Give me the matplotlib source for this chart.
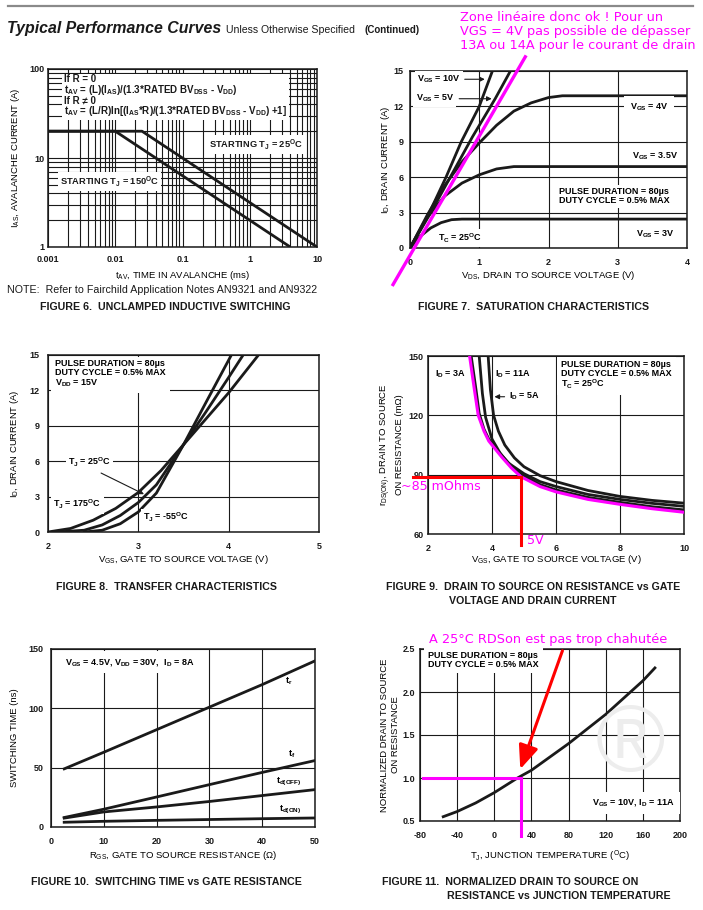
import matplotlib
matplotlib.use("Agg")
import matplotlib.pyplot as plt
from matplotlib.patches import FancyArrowPatch
from matplotlib.ticker import FixedLocator, NullFormatter

W, H = 703, 910
BLACK = "#1a1a1a"
MAGENTA = "#ff00ff"
RED = "#ff0000"

# ---- figure 6 : unclamped inductive switching (log/log)
tav_25 = [0.001, 0.025, 10]
ias_25 = [20, 20, 1]
tav_150 = [0.001, 0.01, 4]
ias_150 = [20, 20, 1]

# ---- figure 7 : saturation characteristics
vds_10v = [0, 0.28, 0.52, 0.74, 1.0, 1.19]
id_10v = [0, 3.0, 6.0, 9.0, 12.0, 15.0]
vds_5v = [0, 0.3, 0.6, 0.9, 1.23, 1.45]
id_5v = [0, 3.0, 6.2, 9.4, 12.65, 15.0]
vds_4v = [0, 0.25, 0.5, 0.75, 1.0, 1.25, 1.5, 1.75, 2.0, 2.2, 4.0]
id_4v = [0, 2.8, 5.3, 7.3, 8.9, 10.4, 11.6, 12.3, 12.75, 12.9, 12.9]
vds_35v = [0, 0.25, 0.5, 0.75, 1.0, 1.25, 1.5, 4.0]
id_35v = [0, 2.6, 4.4, 5.5, 6.2, 6.7, 6.9, 6.9]
vds_3v = [0, 0.15, 0.3, 0.45, 0.6, 0.75, 4.0]
id_3v = [0, 1.0, 1.7, 2.15, 2.4, 2.45, 2.45]
linear_x = [-0.245, 1.665]   # hand drawn magenta line
linear_y = [-3.1, 16.2]

# ---- figure 8 : transfer characteristics
vgs_175 = [2.0, 2.25, 2.5, 2.75, 3.0, 3.25, 3.5, 3.75, 4.0, 4.33]
id_175 = [0, 0.3, 1.0, 2.0, 3.35, 5.2, 7.4, 9.6, 11.8, 15.0]
vgs_25 = [2.1, 2.4, 2.6, 2.8, 3.0, 3.2, 3.5, 3.75, 4.0, 4.16]
id_25 = [0, 0.15, 0.6, 1.4, 2.5, 4.0, 7.4, 10.2, 13.1, 15.0]
vgs_m55 = [2.4, 2.6, 2.8, 3.0, 3.2, 3.5, 3.75, 4.03]
id_m55 = [0, 0.15, 0.7, 1.7, 3.3, 7.4, 11.0, 15.0]

# ---- figure 9 : rDS(on) vs VGS
vgs_3a = [3.35, 3.5, 3.6, 3.75, 3.9, 4.05, 4.3, 4.6, 5.0, 5.5, 6.0, 7.0, 8.0, 9.0, 10.0]
rds_3a = [150, 133, 121, 113, 108, 104.8, 99.8, 94.5, 89.5, 85, 82.3, 78.5, 76, 73.8, 72.2]
vgs_5a = [3.6, 3.7, 3.8, 4.0, 4.25, 4.5, 5.0, 5.5, 6.0, 7.0, 8.0, 9.0, 10.0]
rds_5a = [150, 131, 119, 108, 101, 96, 90.5, 86.5, 84, 80, 77.5, 75.5, 74]
vgs_11a = [3.88, 3.95, 4.05, 4.2, 4.4, 4.7, 5.0, 5.5, 6.0, 7.0, 8.0, 9.0, 10.0]
rds_11a = [150, 133, 120, 112, 105, 98.5, 94, 89.5, 86.5, 82, 79, 77, 75.6]
trace_vgs = [3.3, 3.45, 3.57, 3.75, 3.9, 4.05, 4.3, 4.6, 4.9, 5.5, 6.0, 7.0, 8.0, 9.0, 10.0]
trace_rds = [150, 133, 120, 112, 107, 104, 99, 93.5, 89, 84, 81.3, 77.5, 75, 72.8, 71]
mark_vgs = 4.91
mark_rds = 89

# ---- figure 10 : switching time vs gate resistance
rgs = [2.5, 10, 20, 30, 40, 50]
t_r = [49, 63, 82, 101, 120, 140]
t_f = [8, 15, 25.3, 35.7, 46, 56]
t_doff = [7.5, 12.7, 16.9, 21.5, 26.5, 31.5]
t_don = [4, 4.8, 5.6, 6.3, 7.0, 7.6]

# ---- figure 11 : normalized rDS(on) vs TJ
tj = [-55, -40, -20, 0, 25, 40, 80, 120, 160, 173]
rds_norm = [0.55, 0.61, 0.71, 0.83, 1.0, 1.09, 1.40, 1.74, 2.13, 2.28]
mark_tj = 28.4
tj_ticks = [-80, -40, 0, 40, 80, 120, 160, 200]

plt.rcParams["font.family"] = ["Liberation Sans", "DejaVu Sans"]
plt.rcParams["font.weight"] = "bold"
plt.rcParams["mathtext.default"] = "regular"

fig = plt.figure(figsize=(W / 100, H / 100), dpi=100)
box = dict(facecolor="white", edgecolor="none", pad=1.5)


def px_axes(left, top, right, bottom):
    return fig.add_axes([left / W, 1 - bottom / H, (right - left) / W, (bottom - top) / H])


def style(ax, xpad, ypad):
    ax.set_facecolor("none")
    for s in ax.spines.values():
        s.set_linewidth(1.1)
        s.set_color(BLACK)
    ax.tick_params(which="both", length=0, labelsize=6.5, colors=BLACK)
    ax.tick_params(axis="x", which="both", pad=xpad)
    ax.tick_params(axis="y", which="both", pad=ypad)
    ax.grid(True, which="both", color=BLACK, lw=0.8)
    ax.set_axisbelow(True)


def labels(ax, xlab, ylab, xlab_y, ylab_x):
    l, b, w, h = ax.get_position().bounds
    ax.set_xlabel(xlab, fontsize=6.8, va="center")
    ax.set_ylabel(ylab, fontsize=6.8, va="center", ha="center", multialignment="center")
    ax.xaxis.set_label_coords(0.5, ((H - xlab_y) / H - b) / h)
    ax.yaxis.set_label_coords((ylab_x / W - l) / w, 0.5)


def caption(x, y, s, ha="center"):
    fig.text(x / W, 1 - y / H, s, fontsize=7.7, ha=ha, va="center", color=BLACK)


def note(x, y, s, size=9.3):
    fig.text(x / W, 1 - y / H, s, fontsize=size, weight="normal", family="DejaVu Sans",
             color=MAGENTA, ha="left", va="center", linespacing=1.13)


# header
fig.add_artist(plt.Line2D([8 / W, 693 / W], [1 - 6 / H] * 2, color="#8a8a8a", lw=1.6))
fig.text(7 / W, 1 - 29 / H, "Typical Performance Curves", fontsize=11.4,
         style="italic", ha="left", va="center", color=BLACK)
fig.text(226 / W, 1 - 30 / H, "Unless Otherwise Specified", fontsize=7.6,
         weight="normal", ha="left", va="center", color=BLACK)
fig.text(364 / W, 1 - 30 / H, "(Continued)", fontsize=7.0, ha="left", va="center", color=BLACK)

# ® watermark
fig.text(630 / W, 1 - 747 / H, "®", fontsize=68, weight="normal", color="#ededed",
         ha="center", va="center", zorder=0)

# ---------------- FIGURE 6
ax6 = px_axes(48, 69, 317, 247)
ax6.set_xscale("log")
ax6.set_yscale("log")
ax6.set_xlim(0.001, 10)
ax6.set_ylim(1, 100)
style(ax6, 5.5, 2.5)
ax6.xaxis.set_major_locator(FixedLocator([0.001, 0.01, 0.1, 1, 10]))
ax6.set_xticklabels(["0.001", "0.01", "0.1", "1", "10"])
ax6.yaxis.set_major_locator(FixedLocator([1, 10, 100]))
ax6.set_yticklabels(["1", "10", "100"])
ax6.xaxis.set_minor_formatter(NullFormatter())
ax6.yaxis.set_minor_formatter(NullFormatter())
ax6.plot(tav_25, ias_25, color=BLACK, lw=2.0, solid_capstyle="butt")
ax6.plot(tav_150, ias_150, color=BLACK, lw=2.0, solid_capstyle="butt")
ax6.text(0.06, 0.97,
         "If R = 0\n"
         "$t_{AV}$ = (L)($I_{AS}$)/(1.3*RATED $BV_{DSS}$ - $V_{DD}$)\n"
         "If R ≠ 0\n"
         "$t_{AV}$ = (L/R)ln[($I_{AS}$*R)/(1.3*RATED $BV_{DSS}$ - $V_{DD}$) +1]",
         transform=ax6.transAxes, fontsize=7.0, ha="left", va="top",
         linespacing=0.85, bbox=box, color=BLACK)
ax6.text(0.60, 0.575, "STARTING $T_J$ = 25$^O$C", transform=ax6.transAxes,
         fontsize=6.7, ha="left", va="center", bbox=box, color=BLACK)
ax6.text(0.045, 0.37, "STARTING $T_J$ = 150$^O$C", transform=ax6.transAxes,
         fontsize=6.7, ha="left", va="center", bbox=box, color=BLACK)
labels(ax6, "$t_{AV}$, TIME IN AVALANCHE (ms)", "$I_{AS}$, AVALANCHE CURRENT (A)", 275, 16)
fig.text(7 / W, 1 - 290 / H, "NOTE:  Refer to Fairchild Application Notes AN9321 and AN9322",
         fontsize=7.65, weight="normal", ha="left", va="center", color=BLACK)
caption(165, 307, "FIGURE 6.  UNCLAMPED INDUCTIVE SWITCHING")

# ---------------- FIGURE 7
ax7 = px_axes(410, 71, 687, 248)
ax7.set_xlim(0, 4)
ax7.set_ylim(0, 15)
ax7.set_xticks([0, 1, 2, 3, 4])
ax7.set_yticks([0, 3, 6, 9, 12, 15])
style(ax7, 7.5, 4.5)
for x, y in [(vds_10v, id_10v), (vds_5v, id_5v), (vds_4v, id_4v),
             (vds_35v, id_35v), (vds_3v, id_3v)]:
    ax7.plot(x, y, color=BLACK, lw=2.0)
ax7.plot(linear_x, linear_y, color=MAGENTA, lw=2.4, clip_on=False, zorder=5)
ax7.text(0.1, 14.3, "$V_{GS}$ = 10V", fontsize=6.5, ha="left", va="center", bbox=box)
ax7.annotate("", xy=(1.12, 14.3), xytext=(0.75, 14.3),
             arrowprops=dict(arrowstyle="-|>", lw=0.8, color=BLACK, mutation_scale=7))
ax7.text(0.08, 12.65, "$V_{GS}$ = 5V", fontsize=6.5, ha="left", va="center", bbox=box)
ax7.annotate("", xy=(1.22, 12.65), xytext=(0.67, 12.65),
             arrowprops=dict(arrowstyle="-|>", lw=0.8, color=BLACK, mutation_scale=7))
ax7.text(3.45, 11.9, "$V_{GS}$ = 4V", fontsize=6.5, ha="center", va="center",
         bbox=dict(facecolor="white", edgecolor="none", pad=4))
ax7.text(3.54, 7.8, "$V_{GS}$ = 3.5V", fontsize=6.5, ha="center", va="center", bbox=box)
ax7.text(2.15, 4.4, "PULSE DURATION = 80µs\nDUTY CYCLE = 0.5% MAX", fontsize=6.5,
         ha="left", va="center", linespacing=1.1, bbox=box)
ax7.text(3.54, 1.2, "$V_{GS}$ = 3V", fontsize=6.5, ha="center", va="center", bbox=box)
ax7.text(0.4, 0.85, "$T_C$ = 25$^O$C", fontsize=6.5, ha="left", va="center", bbox=box)
labels(ax7, "$V_{DS}$, DRAIN TO SOURCE VOLTAGE (V)", "$I_D$, DRAIN CURRENT (A)", 276, 385)
caption(534, 307, "FIGURE 7.  SATURATION CHARACTERISTICS")
note(460, 31.5, "Zone linéaire donc ok ! Pour un\nVGS = 4V pas possible de dépasser\n"
                "13A ou 14A pour le courant de drain")

# ---------------- FIGURE 8
ax8 = px_axes(48, 355, 319, 532)
ax8.set_xlim(2, 5)
ax8.set_ylim(0, 15)
ax8.set_xticks([2, 3, 4, 5])
ax8.set_yticks([0, 3, 6, 9, 12, 15])
style(ax8, 7, 6)
for x, y in [(vgs_175, id_175), (vgs_25, id_25), (vgs_m55, id_m55)]:
    ax8.plot(x, y, color=BLACK, lw=2.0)
ax8.text(0.026, 0.975, "PULSE DURATION = 80µs\nDUTY CYCLE = 0.5% MAX\n$V_{DD}$ = 15V",
         transform=ax8.transAxes, fontsize=6.5, ha="left", va="top", linespacing=1.0,
         bbox=dict(facecolor="white", edgecolor="none", pad=3))
ax8.text(2.22, 5.9, "$T_J$ = 25$^O$C", fontsize=6.5, ha="left", va="center", bbox=box)
ax8.annotate("", xy=(3.09, 3.1), xytext=(2.56, 5.1),
             arrowprops=dict(arrowstyle="-|>", lw=0.8, color=BLACK, mutation_scale=7))
ax8.text(2.06, 2.3, "$T_J$ = 175$^O$C", fontsize=6.5, ha="left", va="center", bbox=box)
ax8.text(3.05, 1.2, "$T_J$ = -55$^O$C", fontsize=6.5, ha="left", va="center", bbox=box)
labels(ax8, "$V_{GS}$, GATE TO SOURCE VOLTAGE (V)", "$I_D$, DRAIN CURRENT (A)", 560, 15)
caption(166, 587, "FIGURE 8.  TRANSFER CHARACTERISTICS")

# ---------------- FIGURE 9
ax9 = px_axes(428, 356, 684, 534)
ax9.set_xlim(2, 10)
ax9.set_ylim(60, 150)
ax9.set_xticks([2, 4, 6, 8, 10])
ax9.set_yticks([60, 90, 120, 150])
style(ax9, 7.5, 3)
for x, y in [(vgs_3a, rds_3a), (vgs_5a, rds_5a), (vgs_11a, rds_11a)]:
    ax9.plot(x, y, color=BLACK, lw=2.0)
ax9.plot(trace_vgs, trace_rds, color=MAGENTA, lw=2.2, zorder=4)
ax9.plot([1.54, mark_vgs], [mark_rds, mark_rds], color=RED, lw=2.2, clip_on=False, zorder=5)
ax9.plot([mark_vgs, mark_vgs], [mark_rds, 54.4], color=RED, lw=2.2, clip_on=False, zorder=5)
ax9.text(2.22, 140.7, "$I_D$ = 3A", fontsize=6.5, ha="left", va="center")
ax9.text(4.08, 141, "$I_D$ = 11A", fontsize=6.5, ha="left", va="center")
ax9.text(4.53, 129.4, "$I_D$ = 5A", fontsize=6.5, ha="left", va="center", bbox=box)
ax9.annotate("", xy=(3.99, 129.4), xytext=(4.48, 129.4),
             arrowprops=dict(arrowstyle="-|>", lw=0.8, color=BLACK, mutation_scale=7))
ax9.text(6.15, 148, "PULSE DURATION = 80µs\nDUTY CYCLE = 0.5% MAX\n$T_C$ = 25$^O$C",
         fontsize=6.5, ha="left", va="top", linespacing=1.0,
         bbox=dict(facecolor="white", edgecolor="none", pad=3))
labels(ax9, "$V_{GS}$, GATE TO SOURCE VOLTAGE (V)",
       "$r_{DS(ON)}$, DRAIN TO SOURCE\nON RESISTANCE (mΩ)", 560, 391)
note(401, 487, "~85 mOhms", 9.1)
note(527, 541, "5V", 9.1)
caption(533, 587, "FIGURE 9.  DRAIN TO SOURCE ON RESISTANCE vs GATE")
caption(533, 601, "VOLTAGE AND DRAIN CURRENT")

# ---------------- FIGURE 10
ax10 = px_axes(51, 649, 315, 827)
ax10.set_xlim(0, 50)
ax10.set_ylim(0, 150)
ax10.set_xticks([0, 10, 20, 30, 40, 50])
ax10.set_yticks([0, 50, 100, 150])
style(ax10, 7, 5.5)
for y in [t_r, t_f, t_doff, t_don]:
    ax10.plot(rgs, y, color=BLACK, lw=2.0)
ax10.text(0.053, 0.925, "$V_{GS}$ = 4.5V, $V_{DD}$ = 30V,  $I_D$ = 8A", transform=ax10.transAxes,
          fontsize=6.5, ha="left", va="center", bbox=dict(facecolor="white", edgecolor="none", pad=4))
ax10.text(44.3, 123, "$t_r$", fontsize=6.5, ha="left", va="center")
ax10.text(44.8, 61.2, "$t_f$", fontsize=6.5, ha="left", va="center")
ax10.text(42.6, 38.2, "$t_{d(OFF)}$", fontsize=6.5, ha="left", va="center")
ax10.text(43.1, 14.3, "$t_{d(ON)}$", fontsize=6.5, ha="left", va="center")
labels(ax10, "$R_{GS}$, GATE TO SOURCE RESISTANCE (Ω)", "SWITCHING TIME (ns)", 856, 15)
caption(166, 882, "FIGURE 10.  SWITCHING TIME vs GATE RESISTANCE")

# ---------------- FIGURE 11
ax11 = px_axes(420, 649, 680, 821)
ax11.set_xlim(-80, 200)
ax11.set_ylim(0.5, 2.5)
ax11.set_xticks(tj_ticks)
ax11.set_xticklabels([str(t) for t in tj_ticks])
ax11.set_yticks([0.5, 1.0, 1.5, 2.0, 2.5])
ax11.set_yticklabels(["0.5", "1.0", "1.5", "2.0", "2.5"])
style(ax11, 7.5, 3.5)
ax11.plot(tj, rds_norm, color=BLACK, lw=2.0)
ax11.plot([-77.1, mark_tj], [1.0, 1.0], color=MAGENTA, lw=2.2, clip_on=False, zorder=5)
ax11.plot([mark_tj, mark_tj], [1.0, 0.32], color=MAGENTA, lw=2.2, clip_on=False, zorder=5)
ax11.add_patch(FancyArrowPatch((74.4, 2.51), (27, 1.073),
                               arrowstyle="-|>,head_length=0.6,head_width=0.25",
                               mutation_scale=24, color=RED, lw=2.2, clip_on=False, zorder=6))
ax11.text(0.032, 0.936, "PULSE DURATION = 80µs\nDUTY CYCLE = 0.5% MAX", transform=ax11.transAxes,
          fontsize=6.5, ha="left", va="center", linespacing=1.0,
          bbox=dict(facecolor="white", edgecolor="none", pad=3))
ax11.text(0.98, 0.106, "$V_{GS}$ = 10V, $I_D$ = 11A", transform=ax11.transAxes,
          fontsize=6.5, ha="right", va="center", bbox=dict(facecolor="white", edgecolor="none", pad=4))
labels(ax11, "$T_J$, JUNCTION TEMPERATURE ($^O$C)",
       "NORMALIZED DRAIN TO SOURCE\nON RESISTANCE", 856, 390)
note(429, 639, "A 25°C RDSon est pas trop chahutée", 9.3)
caption(382, 882, "FIGURE 11.  NORMALIZED DRAIN TO SOURCE ON", ha="left")
caption(447, 896, "RESISTANCE vs JUNCTION TEMPERATURE", ha="left")

fig.savefig("out.png", dpi=100)
